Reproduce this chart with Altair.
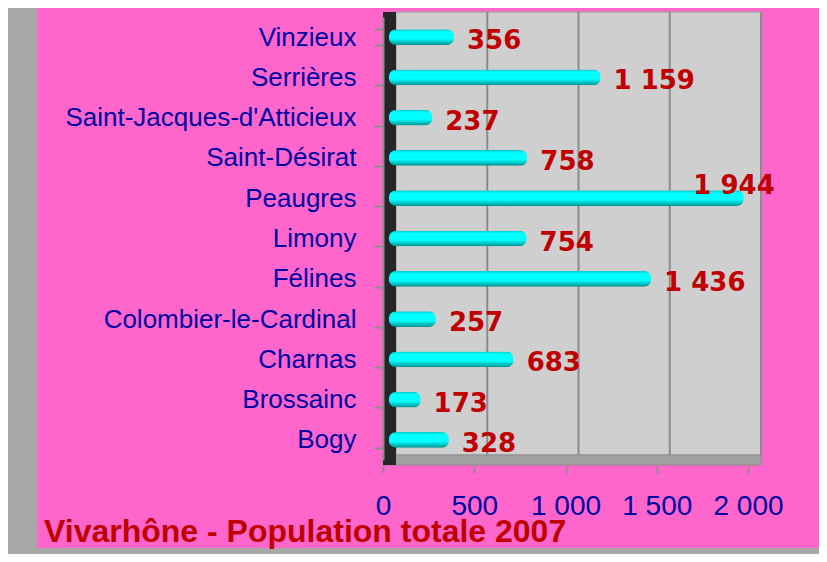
import altair as alt
import pandas as pd

communes = ["Vinzieux", "Serrières", "Saint-Jacques-d'Atticieux", "Saint-Désirat", "Peaugres",
            "Limony", "Félines", "Colombier-le-Cardinal", "Charnas", "Brossainc", "Bogy"]
population = [356, 1159, 237, 758, 1944, 754, 1436, 257, 683, 173, 328]
grid_values = [500, 1000, 1500, 2000]
tick_values = [0, 500, 1000, 1500, 2000]
title_text = "Vivarhône - Population totale 2007"

PINK = "#FF66CC"
BLUE = "#0000A0"
RED = "#C00000"

df = pd.DataFrame({"commune": communes, "pop": population})
one = pd.DataFrame({"a": [0]})
grid_df = pd.DataFrame({"g": grid_values})

W, H = 365, 443
xscale = alt.Scale(domain=[0, 2000], nice=False, zero=True)
yscale = alt.Scale(domain=communes, paddingInner=0.61, paddingOuter=0.305)

xaxis = alt.Axis(title=None, values=tick_values, grid=False, domain=False,
                 offset=6, tickOffset=-6, tickSize=7, tickColor="#8C8C8C", tickWidth=2,
                 labelExpr="replace(format(datum.value, ','), ',', ' ')",
                 labelFont="Liberation Sans", labelFontSize=28, labelColor=BLUE,
                 labelPadding=19, labelFlush=False, zindex=1)
yaxis = alt.Axis(title=None, offset=6, tickBand="extent", tickOffset=6, tickSize=9,
                 tickColor="#8C8C8C", tickWidth=2, domainColor="#8C8C8C", domainWidth=2,
                 labelFont="Liberation Sans", labelFontSize=26, labelColor=BLUE,
                 labelPadding=18, labelLimit=500, zindex=1)

pink = alt.Chart(one).mark_rect(color=PINK).encode(
    x=alt.value(-352), x2=alt.value(433), y=alt.value(-20), y2=alt.value(531))
backwall = alt.Chart(one).mark_rect(color="#CFCFCF", stroke="#9A9A9A", strokeWidth=1).encode(
    x=alt.value(7), x2=alt.value(372), y=alt.value(-5), y2=alt.value(438))
floor = alt.Chart(one).mark_rect(color="#A0A0A0", stroke="#8C8C8C", strokeWidth=1).encode(
    x=alt.value(-6), x2=alt.value(372), y=alt.value(438), y2=alt.value(448))
leftwall = alt.Chart(one).mark_rect(color="#262626").encode(
    x=alt.value(-6), x2=alt.value(7), y=alt.value(-5), y2=alt.value(448))

grid = alt.Chart(grid_df).mark_rule(color="#8C8C8C", strokeWidth=2).encode(
    x=alt.X("g:Q", scale=xscale, axis=xaxis),
    xOffset=alt.value(7),
    y=alt.value(-5), y2=alt.value(438))

grad = alt.Gradient(
    gradient="linear", x1=0, x2=0, y1=0, y2=1,
    stops=[alt.GradientStop(color="#00C8C8", offset=0),
           alt.GradientStop(color="#00FFFF", offset=0.18),
           alt.GradientStop(color="#00FFFF", offset=0.6),
           alt.GradientStop(color="#008F8F", offset=1)])

bars = alt.Chart(df).mark_bar(color=grad, cornerRadius=7).encode(
    x=alt.X("pop:Q", scale=xscale, axis=xaxis),
    y=alt.Y("commune:N", scale=yscale, sort=communes, axis=yaxis))

lab_expr = "replace(format(datum.pop, ','), ',', ' ')"
labels = alt.Chart(df).transform_filter("datum.pop < 1900").transform_calculate(
    lab=lab_expr).mark_text(align="left", baseline="middle", dx=13, dy=4,
                            font="DejaVu Sans", fontWeight="bold", fontSize=26, color=RED).encode(
    x=alt.X("pop:Q", scale=xscale, axis=xaxis),
    y=alt.Y("commune:N", scale=yscale, sort=communes, axis=yaxis), text="lab:N")
labels_big = alt.Chart(df).transform_filter("datum.pop >= 1900").transform_calculate(
    lab=lab_expr).mark_text(align="right", baseline="middle", dx=31, dy=-12,
                            font="DejaVu Sans", fontWeight="bold", fontSize=26, color=RED).encode(
    x=alt.X("pop:Q", scale=xscale, axis=xaxis),
    y=alt.Y("commune:N", scale=yscale, sort=communes, axis=yaxis), text="lab:N")

title = alt.Chart(pd.DataFrame({"t": [title_text]})).mark_text(
    align="left", baseline="alphabetic", font="Liberation Sans", fontWeight="bold",
    fontSize=32, color=RED).encode(x=alt.value(-345), y=alt.value(525), text="t:N")

chart = alt.layer(pink, backwall, floor, leftwall, grid, bars, labels, labels_big, title).properties(
    width=W, height=H,
    autosize=alt.AutoSizeParams(type="none"),
    padding={"left": 381, "top": 9, "right": 65, "bottom": 94},
    background="#A8A8A8",
).configure_view(strokeWidth=0, fill=None)

chart.save("out.html", embed_options={"renderer": "svg", "actions": False})
